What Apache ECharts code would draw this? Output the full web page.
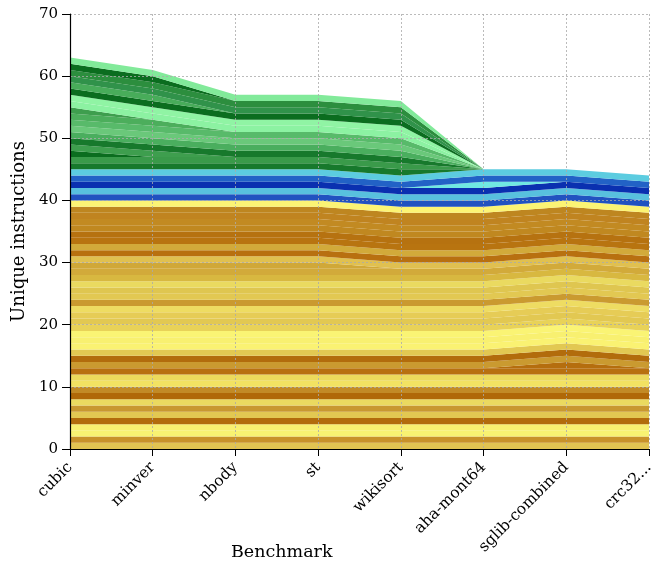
<!DOCTYPE html>
<html>
<head>
<meta charset="utf-8">
<script src="https://cdn.jsdelivr.net/npm/echarts@6/dist/echarts.min.js"></script>
<style>
  html, body { margin: 0; padding: 0; background: #fff; }
  #chart { width: 663px; height: 566px; }
</style>
</head>
<body>
<div id="chart"></div>
<script>
// Benchmarks along the x axis
const benchmarks = ['cubic', 'minver', 'nbody', 'st', 'wikisort', 'aha-mont64', 'sglib-combined', 'crc32...'];
const yTicks = [0, 10, 20, 30, 40, 50, 60, 70];

// Each layer is one instruction: 1 where the benchmark uses it, 0 where it does not.
// Layers are listed bottom to top.
const yellowLayers = [
  [1,1,1,1,1,1,1,1], [1,1,1,1,1,1,1,1], [1,1,1,1,1,1,1,1], [1,1,1,1,1,1,1,1],
  [1,1,1,1,1,1,1,1], [1,1,1,1,1,1,1,1], [1,1,1,1,1,1,1,1], [1,1,1,1,1,1,1,1],
  [1,1,1,1,1,1,1,1], [1,1,1,1,1,1,1,1], [1,1,1,1,1,1,1,1], [1,1,1,1,1,1,1,1],
  [1,1,1,1,1,1,1,1], [0,0,0,0,0,0,1,0], [1,1,1,1,1,1,1,1], [1,1,1,1,1,1,1,1],
  [1,1,1,1,1,1,1,1], [1,1,1,1,1,1,1,1], [1,1,1,1,1,1,1,1], [1,1,1,1,1,1,1,1],
  [1,1,1,1,1,1,1,1], [1,1,1,1,1,1,1,1], [1,1,1,1,1,1,1,1], [1,1,1,1,1,1,1,1],
  [1,1,1,1,1,1,1,1], [1,1,1,1,1,1,1,1], [1,1,1,1,1,1,1,1], [1,1,1,1,1,1,1,1],
  [1,1,1,1,1,1,1,1], [1,1,1,1,1,1,1,1], [1,1,1,1,0,0,0,0], [1,1,1,1,1,1,1,1],
  [1,1,1,1,1,1,1,1], [1,1,1,1,1,1,1,1], [1,1,1,1,1,1,1,1], [1,1,1,1,1,1,1,1],
  [1,1,1,1,1,1,1,1], [1,1,1,1,1,1,1,1], [1,1,1,1,1,1,1,1], [1,1,1,1,1,1,1,1],
  [1,1,1,1,1,1,1,1]
];
const blueLayers = [
  [1,1,1,1,1,1,1,1], [1,1,1,1,1,1,1,1], [1,1,1,1,1,1,1,1],
  [0,0,0,0,0,1,0,0], [1,1,1,1,1,1,1,1], [1,1,1,1,1,1,1,1]
];
const greenLayers = [
  [1,1,1,1,1,0,0,0], [1,1,1,1,1,0,0,0], [1,0,0,0,0,0,0,0], [1,1,0,0,0,0,0,0],
  [1,1,1,1,1,0,0,0], [1,1,1,1,1,0,0,0], [1,1,1,1,1,0,0,0], [1,1,1,1,1,0,0,0],
  [1,1,0,0,0,0,0,0], [1,0,0,0,0,0,0,0], [1,1,1,1,1,0,0,0], [1,1,1,1,1,0,0,0],
  [1,1,1,1,1,0,0,0], [1,1,0,0,0,0,0,0], [1,1,1,1,1,0,0,0], [1,1,1,1,1,0,0,0],
  [1,1,0,0,0,0,0,0], [1,1,1,1,1,0,0,0]
];

// Fill colours, one per layer, in the same order
const yellowColors = [
  '#e2c452', '#c8922a', '#f8f272', '#f8f070', '#b26c0c', '#e2c852', '#c89830', '#eada60',
  '#b06808', '#c28a26', '#f2e262', '#ecda5c', '#b87010', '#b56e0e', '#ca9a30', '#b26c0c',
  '#e2c852', '#faf272', '#f8f070', '#faf474', '#e8d258', '#e2c852', '#e6cc56', '#eedc62',
  '#ca9a30', '#e2c852', '#dfc650', '#eada60', '#d8b840', '#d2aa3a', '#d0a838', '#e0c050',
  '#b87010', '#d2aa3a', '#b87410', '#b67210', '#c08820', '#c28a22', '#c08420', '#be8620',
  '#fcf474'
];
const blueColors = ['#2152c0', '#58c0de', '#0a30b0', '#70e8e2', '#2262c6', '#5ccce0'];
const greenColors = [
  '#17792c', '#3a9a4a', '#0b6d1f', '#3e9e4e', '#17792c', '#4aae5e', '#6ac87a', '#58ba6a',
  '#4cae5c', '#3e9e4e', '#8cf2a2', '#90f4a4', '#0b6d1f', '#48ac5a', '#30924a', '#2c8e3e',
  '#0b6d1f', '#82ea9a'
];

const FONT = 'DejaVu Serif';

function layerSeries(layers, colors, group) {
  return layers.map((vals, i) => ({
    name: group + i,
    type: 'line',
    stack: 'total',
    data: vals,
    symbol: 'none',
    showSymbol: false,
    lineStyle: { width: 0, opacity: 0 },
    areaStyle: { color: colors[i], opacity: 1 },
    emphasis: { disabled: true },
    silent: true,
    z: 2
  }));
}

const series = [].concat(
  layerSeries(yellowLayers, yellowColors, 'y'),
  layerSeries(blueLayers, blueColors, 'b'),
  layerSeries(greenLayers, greenColors, 'g')
);

const gridLine = { show: true, lineStyle: { color: 'rgba(170,170,170,0.8)', width: 1, type: [2, 2] } };

const chart = echarts.init(document.getElementById('chart'), null, { renderer: 'canvas' });
chart.setOption({
  animation: false,
  backgroundColor: '#ffffff',
  grid: { left: 70, right: 14, top: 14, bottom: 117, containLabel: false },
  xAxis: {
    type: 'category',
    data: benchmarks,
    boundaryGap: false,
    z: 5,
    axisLine: { show: true, lineStyle: { color: '#000', width: 1.2 } },
    axisTick: { show: true, length: 7, lineStyle: { color: '#000' } },
    axisLabel: { rotate: 45, color: '#000', fontFamily: FONT, fontSize: 15.5, margin: 16 },
    splitLine: gridLine
  },
  yAxis: {
    type: 'value',
    min: yTicks[0],
    max: yTicks[yTicks.length - 1],
    interval: 10,
    z: 5,
    name: 'Unique instructions',
    nameLocation: 'middle',
    nameGap: 35,
    nameTextStyle: { color: '#000', fontFamily: FONT, fontSize: 18 },
    axisLine: { show: true, lineStyle: { color: '#000', width: 1.2 } },
    axisTick: { show: true, length: 8, lineStyle: { color: '#000' } },
    axisLabel: { color: '#000', fontFamily: FONT, fontSize: 15, margin: 12 },
    splitLine: gridLine
  },
  graphic: [{
    type: 'text',
    left: 231,
    top: 543,
    style: { text: 'Benchmark', fill: '#000', font: '17.5px "DejaVu Serif"' }
  }],
  series: series
});
</script>
</body>
</html>
